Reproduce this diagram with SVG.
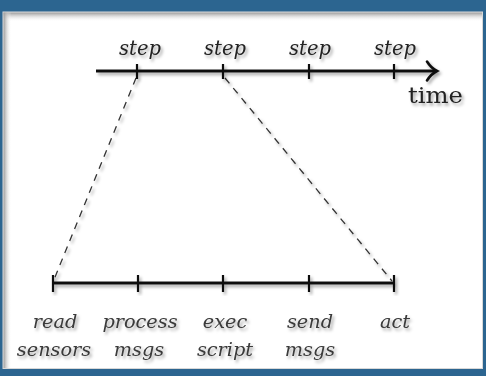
<svg xmlns="http://www.w3.org/2000/svg" width="486" height="376" viewBox="0 0 486 376">
<defs>
<filter id="sh" x="-20%" y="-20%" width="140%" height="140%">
<feDropShadow dx="2" dy="2.5" stdDeviation="1.8" flood-color="#000" flood-opacity="0.35"/>
</filter>
<linearGradient id="gt" x1="0" y1="0" x2="0" y2="1">
<stop offset="0" stop-color="#9a9a9a"/>
<stop offset="1" stop-color="#ffffff" stop-opacity="0"/>
</linearGradient>
<linearGradient id="gl" x1="0" y1="0" x2="1" y2="0">
<stop offset="0" stop-color="#9a9a9a"/>
<stop offset="1" stop-color="#ffffff" stop-opacity="0"/>
</linearGradient>
</defs>
<style>
.ax{stroke:#111;stroke-width:3;fill:none;stroke-linecap:butt}
.tk{stroke:#111;stroke-width:2.2;fill:none}
.ds{stroke:#333;stroke-width:1.3;fill:none;stroke-dasharray:7 6}
.st{font-family:"DejaVu Serif",serif;font-style:italic;font-size:19.5px;fill:#222;text-anchor:middle}
.lb{font-family:"DejaVu Serif",serif;font-style:italic;font-size:19.3px;fill:#3a3a3a;text-anchor:middle}
.tm{font-family:"DejaVu Serif",serif;font-size:23px;fill:#222}
</style>
<rect x="0" y="0" width="486" height="376" fill="#2c6590"/>
<rect x="3" y="12" width="479.5" height="356.5" fill="#fff" stroke="#d8d8d8" stroke-width="1"/>
<rect x="3.5" y="12.5" width="478.5" height="9" fill="url(#gt)"/>
<rect x="3.5" y="12.5" width="8" height="355.5" fill="url(#gl)"/>

<g id="connectors" filter="url(#sh)">
<line class="ds" x1="136" y1="78" x2="53" y2="282"/>
<line class="ds" x1="225" y1="78" x2="392" y2="281"/>
</g>

<g id="time-axis" filter="url(#sh)">
<line class="ax" x1="96" y1="71" x2="435" y2="71"/>
<path d="M427 61.5 Q431 68 437 71 Q431 74 427 80.5" stroke="#111" stroke-width="2.6" fill="none" stroke-linecap="round"/>
<line class="tk" x1="137" y1="64" x2="137" y2="79"/>
<line class="tk" x1="223" y1="64" x2="223" y2="79"/>
<line class="tk" x1="309" y1="64" x2="309" y2="79"/>
<line class="tk" x1="394" y1="64" x2="394" y2="79"/>
<text class="st" x="140" y="55">step</text>
<text class="st" x="225" y="55">step</text>
<text class="st" x="310" y="55">step</text>
<text class="st" x="395" y="55">step</text>
<text class="tm" x="408" y="103" textLength="55" lengthAdjust="spacingAndGlyphs">time</text>
</g>

<g id="step-axis" filter="url(#sh)">
<line class="ax" x1="53" y1="283" x2="394" y2="283"/>
<line class="tk" x1="53" y1="275" x2="53" y2="292" stroke-width="3"/>
<line class="tk" x1="138" y1="275" x2="138" y2="292"/>
<line class="tk" x1="223" y1="275" x2="223" y2="292"/>
<line class="tk" x1="309" y1="275" x2="309" y2="292"/>
<line class="tk" x1="394" y1="275" x2="394" y2="292" stroke-width="3"/>
</g>

<g id="labels" filter="url(#sh)">
<g id="read-sensors"><text class="lb" x="55" y="328">read</text><text class="lb" x="54" y="356">sensors</text></g>
<g id="process-msgs"><text class="lb" x="140" y="328">process</text><text class="lb" x="139" y="356">msgs</text></g>
<g id="exec-script"><text class="lb" x="225" y="328">exec</text><text class="lb" x="225" y="356">script</text></g>
<g id="send-msgs"><text class="lb" x="310" y="328">send</text><text class="lb" x="310" y="356">msgs</text></g>
<g id="act"><text class="lb" x="395" y="328">act</text></g>
</g>
</svg>
